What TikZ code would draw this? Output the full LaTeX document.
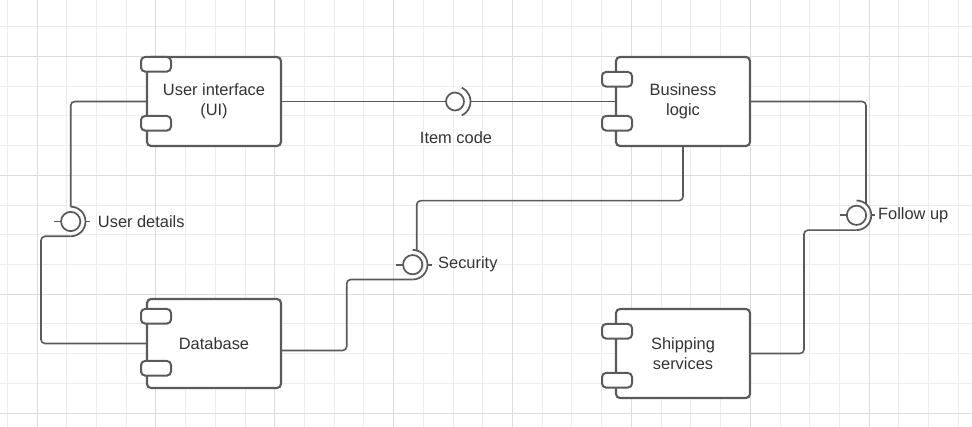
\documentclass[tikz,border=0pt]{standalone}
\usepackage{fontspec}
\setmainfont{Liberation Sans}
\usetikzlibrary{positioning,calc}

\definecolor{linegray}{HTML}{5A5A5A}
\definecolor{textgray}{HTML}{333333}
\definecolor{gridlight}{HTML}{EDEDED}
\definecolor{griddark}{HTML}{DCDCDC}

\tikzset{
  component/.style={draw=linegray, line width=1.6pt, rounded corners=3pt, fill=white,
    minimum width=100.5pt, minimum height=66.75pt, inner sep=0pt, outer sep=0pt,
    align=center, text=textgray, font=\fontsize{12.3}{15}\selectfont},
  port/.style={draw=linegray, line width=1.5pt, rounded corners=3pt, fill=white,
    minimum width=22.5pt, minimum height=10.9pt, inner sep=0pt, outer sep=0pt,
    anchor=north west},
  wire/.style={draw=linegray, line width=1.2pt, rounded corners=3pt},
  ball/.style={circle, draw=linegray, line width=1.3pt, fill=white,
    inner sep=0pt, outer sep=0pt},
  socket/.style={draw=linegray, line width=1.3pt},
  lbl/.style={text=textgray, inner sep=0pt, font=\fontsize{12.3}{15}\selectfont},
  gridline/.style={draw=gridlight, line width=0.75pt},
  gridmajor/.style={draw=griddark, line width=0.75pt},
}

\begin{document}
\begin{tikzpicture}[x=0.75pt,y=-0.75pt]
    \useasboundingbox (0,0) rectangle (972,427);
    \fill[white] (0,0) rectangle (972,427);
    % grid
    \foreach \k in {0,...,32}
        \draw[gridline] ({7.3+29.72*\k},0) -- ({7.3+29.72*\k},427);
    \foreach \k in {0,...,13}
        \draw[gridline] (0,{26.7+29.72*\k}) -- (972,{26.7+29.72*\k});
    \foreach \k in {1,5,...,29}
        \draw[gridmajor] ({7.3+29.72*\k},0) -- ({7.3+29.72*\k},427);
    \foreach \k in {1,5,9,13}
        \draw[gridmajor] (0,{26.7+29.72*\k}) -- (972,{26.7+29.72*\k});
    % components
    \node[component] (ui) at (214,101.5) {User interface\\(UI)};
    \node[component] (bl) at (683,101.5) {Business\\logic};
    \node[component] (db) at (214,343.5) {Database};
    \node[component] (ss) at (683,353.5) {Shipping\\services};
    \node[port] (uiport1) at ($(ui.north west)+(-6,0)$) {};
    \node[port] (uiport2) at ($(ui.north west)+(-6,59)$) {};
    \node[port] (blport1) at ($(bl.north west)+(-14,15)$) {};
    \node[port] (blport2) at ($(bl.north west)+(-14,59)$) {};
    \node[port] (dbport1) at ($(db.north west)+(-6,10)$) {};
    \node[port] (dbport2) at ($(db.north west)+(-6,62)$) {};
    \node[port] (ssport1) at ($(ss.north west)+(-14,15)$) {};
    \node[port] (ssport2) at ($(ss.north west)+(-14,64)$) {};
    % item code
    \node[ball, minimum size=13.5pt] (icball) at (455,101.5) {};
    \draw[socket] ($(icball.center)+(64:15.5)$) arc[start angle=64, end angle=-64, radius=15.5];
    \coordinate (icout) at ($(icball.center)+(15.5,0)$);
    % user details
    \node[ball, minimum size=14.5pt] (udball) at (70.7,221.5) {};
    \draw[socket] ($(udball.center)+(90:14.8)$) arc[start angle=90, end angle=-90, radius=14.8];
    \draw[socket] ($(udball.west)+(-7,0)$) -- (udball.west);
    \draw[socket] ($(udball.center)+(14.8,0)$) -- +(4,0);
    \coordinate (udtop) at ($(udball.center)+(0,-14.8)$);
    \coordinate (udbot) at ($(udball.center)+(0,14.8)$);
    % security
    \node[ball, minimum size=14.5pt] (secball) at (412.7,264.7) {};
    \draw[socket] ($(secball.center)+(90:14.8)$) arc[start angle=90, end angle=-90, radius=14.8];
    \draw[socket] ($(secball.west)+(-7,0)$) -- (secball.west);
    \draw[socket] ($(secball.center)+(14.8,0)$) -- +(4,0);
    \coordinate (secin) at ($(secball.center)+(4,-14.2)$);
    \coordinate (secbot) at ($(secball.center)+(0,14.8)$);
    % follow up
    \node[ball, minimum size=14.5pt] (fuball) at (856.5,215.3) {};
    \draw[socket] ($(fuball.center)+(90:14.8)$) arc[start angle=90, end angle=-90, radius=14.8];
    \draw[socket] ($(fuball.west)+(-7,0)$) -- (fuball.west);
    \draw[socket] ($(fuball.center)+(14.8,0)$) -- +(4,0);
    \coordinate (fuin) at ($(fuball.center)+(9.5,-11.4)$);
    \coordinate (fubot) at ($(fuball.center)+(0,14.8)$);
    % wires
    \draw[wire] (ui.east) -- (icball.west);
    \draw[wire] (icout) -- (bl.west);
    \draw[wire] (ui.west) -| (udtop);
    \draw[wire] (udbot) -| ($(db.west)+(-106,0)$) -- (db.west);
    \draw[wire] (bl.south) |- ($(secin)+(0,-49.8)$) -- (secin);
    \draw[wire] ($(db.east)+(0,7)$) -| ($(secbot)+(-66,0)$) -- (secbot);
    \draw[wire] (bl.east) -| (fuin);
    \draw[wire] (fubot) -| ($(ss.east)+(54,0)$) -- (ss.east);
    % labels
    \node[lbl] (iclabel) at (456,137.3) {Item code};
    \node[lbl, right=13pt of udball] (udlabel) {User details};
    \node[lbl, right=11.7pt of secball] (seclabel) {Security};
    \node[lbl, right=8.8pt of fuball] (fulabel) {Follow up};
\end{tikzpicture}
\end{document}
